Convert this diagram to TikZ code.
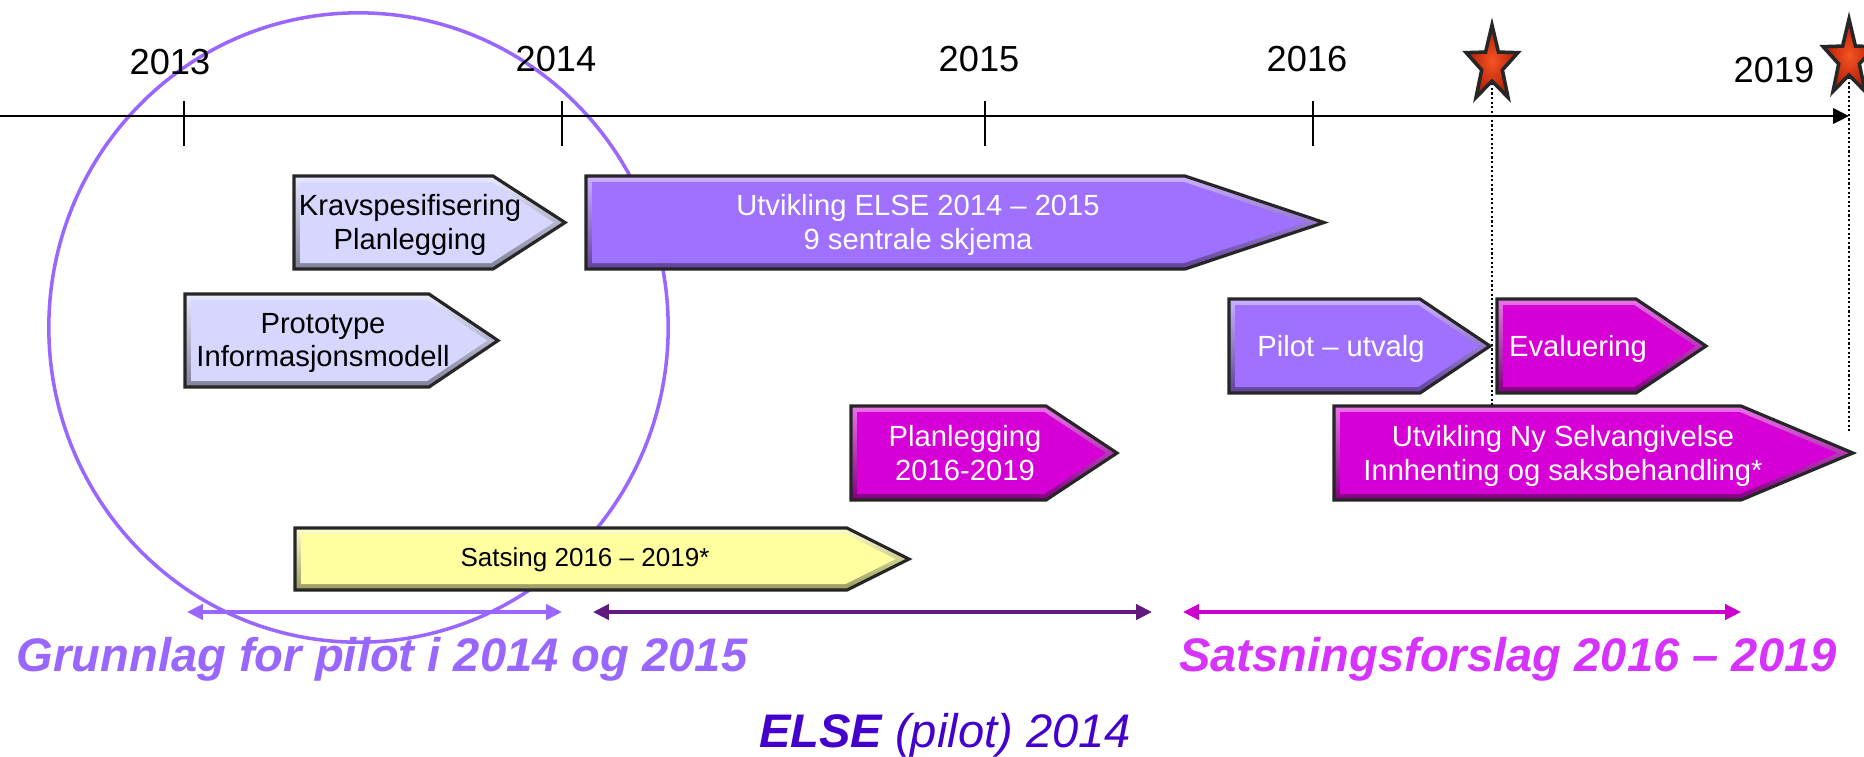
\documentclass[tikz,border=0pt]{standalone}
\usepackage{fontspec}
\setmainfont{Liberation Sans}
\usetikzlibrary{arrows.meta,shapes.geometric,calc}
\definecolor{lavbox}{RGB}{214,214,255}
\definecolor{lilla}{RGB}{160,112,255}
\definecolor{rosa}{RGB}{214,0,214}
\definecolor{gulbox}{RGB}{255,255,160}
\definecolor{lyslilla}{RGB}{153,102,255}
\definecolor{morklilla}{RGB}{96,26,128}
\definecolor{rosastrek}{RGB}{204,0,204}
\definecolor{satsfarge}{RGB}{214,51,255}
\definecolor{elsefarge}{RGB}{68,0,204}
\definecolor{stjernelys}{RGB}{245,85,35}
\definecolor{stjernemork}{RGB}{175,25,5}
\tikzstyle{bar}=[draw=black!85, line width=0.9pt, line join=miter]
\tikzstyle{bartext}=[align=center, inner sep=0pt, font=\fontsize{8.3}{9.6}\selectfont]
\tikzstyle{year}=[anchor=base, inner sep=0pt, font=\fontsize{10.3}{12}\selectfont]
\tikzstyle{axis}=[draw, line width=0.8pt, -{Triangle[length=4.5pt,width=4.3pt]}]
\tikzstyle{tick}=[draw, line width=0.5pt]
\tikzstyle{span}=[draw, line width=1pt, {Triangle[length=4.5pt,width=4.3pt]}-{Triangle[length=4.5pt,width=4.3pt]}]
\tikzstyle{milestone}=[star, star points=5, star point ratio=2.5, minimum size=0.8cm, inner sep=0pt, xscale=0.68, draw=black!85, line width=1pt, inner color=stjernelys, outer color=stjernemork]
\tikzstyle{guide}=[draw, line width=0.6pt, dash pattern=on 0.6pt off 0.7pt]
\tikzstyle{phase}=[inner sep=0pt, font=\fontsize{13.4}{16}\selectfont\itshape]
\begin{document}
\begin{tikzpicture}[x=0.01cm, y=-0.01cm]
    \path[fill=white, use as bounding box] (0,0) rectangle (1864,756);

    % the circle round the first year
    \node[ellipse, draw=lyslilla, line width=1pt, minimum width=6.19cm, minimum height=6.29cm] (focus) at (358.5,327.5) {};

    % time axis with years
    \coordinate (t0) at (0,116);
    \coordinate (t1) at (1849,116);
    \path[axis] (t0) -- (t1);
    \foreach \x/\lx/\ly/\yr in {184/170/74/2013, 562/556/71/2014, 985/979/71/2015, 1313/1307/71/2016} {
        \path[tick] (\x,101) -- (\x,146);
        \node[year] (y\yr) at (\lx,\ly) {\yr};
    }
    \node[year] (y2019) at (1774,82) {2019};

    % bars: name/start/end of body/tip/top/bottom/colour
    \foreach \name/\xa/\xb/\xc/\ya/\yb/\col in {krav/294/493/565/176/269/lavbox,
            proto/185/429/498/294/387/lavbox, elsebar/586/1185/1324/176/269/lilla,
            pilot/1229/1420/1490/299/393/lilla, eval/1497/1636/1706/299/393/rosa,
            plan/851/1046/1117/406/500/rosa, nysa/1334/1741/1853/406/500/rosa,
            sats/295/847/909/528/590/gulbox} {
        \pgfmathsetmacro\halfh{(\yb-\ya)/2}
        \pgfmathsetmacro\tiplen{\xc-\xb}
        \pgfmathsetmacro\slant{10*sqrt((\tiplen/10)^2+(\halfh/10)^2)}
        \pgfmathsetmacro\xd{\xb+6*(\tiplen-\slant)/\halfh}
        \pgfmathsetmacro\xe{\xc-6*\slant/\halfh}
        \path[bar, top color=\col!55!white, bottom color=\col!60!black] (\xa,\ya) -- (\xb,\ya) -- (\xc,\ya+\halfh) -- (\xb,\yb) -- (\xa,\yb) -- cycle;
        \fill[\col] (\xa+6,\ya+6) -- (\xd,\ya+6) -- (\xe,\ya+\halfh) -- (\xd,\yb-6) -- (\xa+6,\yb-6) -- cycle;
        \coordinate (\name-top) at (\xa,\ya);
    }

    \node[bartext] (kravtxt) at (410,225) {Kravspesifisering\\Planlegging};
    \node[bartext] (prototxt) at (323,343) {Prototype\\Informasjonsmodell};
    \node[bartext, white] (elsetxt) at (918,225) {Utvikling ELSE 2014 – 2015\\9 sentrale skjema};
    \node[bartext, white] (pilottxt) at (1341,349) {Pilot – utvalg};
    \node[bartext, white] (evaltxt) at (1578,349) {Evaluering};
    \node[bartext, white] (plantxt) at (965,453) {Planlegging\\2016-2019};
    \node[bartext, white] (nysatxt) at (1563,456) {Utvikling Ny Selvangivelse\\Innhenting og saksbehandling*};
    \node[bartext, font=\fontsize{7.4}{9}\selectfont] (satstxt) at (585,560) {Satsing 2016 – 2019*};

    % milestones
    \coordinate (ms1) at (1492,65);
    \coordinate (ms2) at (1849,59);
    \coordinate (g2end) at (1849,432);
    \path[guide] (ms1) -- (ms1 |- nysa-top);
    \path[guide] (ms2) -- (g2end);
    \node[milestone] (star1) at (ms1) {};
    \node[milestone] (star2) at (ms2) {};

    % periods below
    \foreach \name/\xa/\xb/\col in {grunn/187/562/lyslilla, elsespan/593/1152/morklilla, satsspan/1183/1741/rosastrek} {
        \coordinate (\name-a) at (\xa,612);
        \coordinate (\name-b) at (\xb,612);
        \path[span, \col] (\name-a) -- (\name-b);
    }
    \node[phase, lyslilla, anchor=base west] (grunnlag) at (16,671) {\bfseries Grunnlag for pilot i 2014 og 2015};
    \node[phase, satsfarge, anchor=base] (satsforslag) at (1508,671) {\bfseries Satsningsforslag 2016 – 2019};
    \node[phase, elsefarge, anchor=base] (elsepilot) at (945,747) {{\bfseries ELSE} (pilot) 2014};
\end{tikzpicture}
\end{document}
